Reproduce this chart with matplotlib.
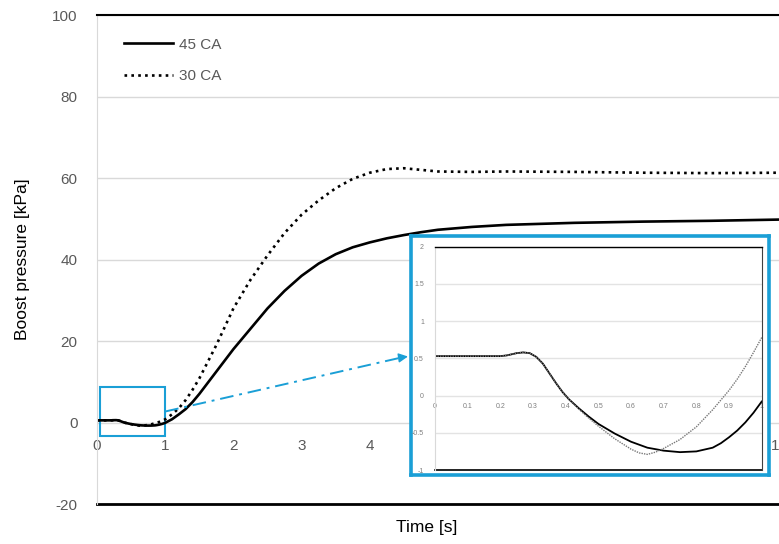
import matplotlib.pyplot as plt
from matplotlib.patches import Rectangle
import numpy as np

plt.rcParams['font.family'] = ['Liberation Sans', 'DejaVu Sans']
plt.rcParams['axes.unicode_minus'] = False

# first second of the run (shown in the inset and the main chart)
t_early = [0, 0.1, 0.2, 0.22, 0.25, 0.27, 0.29, 0.31, 0.33, 0.35, 0.37, 0.39, 0.41, 0.44,
           0.47, 0.5, 0.55, 0.6, 0.625, 0.65, 0.675, 0.7, 0.75, 0.8, 0.85, 0.875, 0.9, 0.925,
           0.95, 0.975, 1.0]
p45_early = [0.53, 0.53, 0.53, 0.54, 0.57, 0.58, 0.57, 0.52, 0.43, 0.30, 0.17, 0.05, -0.05, -0.17,
             -0.28, -0.38, -0.51, -0.62, -0.66, -0.70, -0.72, -0.74, -0.76, -0.75, -0.70, -0.64,
             -0.56, -0.47, -0.36, -0.23, -0.08]
p30_early = [0.53, 0.53, 0.53, 0.54, 0.57, 0.58, 0.57, 0.52, 0.43, 0.30, 0.17, 0.05, -0.05, -0.18,
             -0.30, -0.41, -0.58, -0.72, -0.77, -0.79, -0.76, -0.71, -0.59, -0.42, -0.19, -0.06,
             0.07, 0.22, 0.39, 0.58, 0.78]

# rest of the run
t_late = [1.1, 1.2, 1.3, 1.4, 1.5, 1.75, 2.0, 2.25, 2.5, 2.75, 3.0, 3.25, 3.5,
          3.75, 4.0, 4.25, 4.5, 4.75, 5.0, 5.5, 6, 7, 8, 9, 10]
p45_late = [0.8, 2.0, 3.3, 5.0, 7.0, 12.5, 18.0, 23.0, 28.0, 32.3, 36.0, 39.0, 41.3,
            43.0, 44.2, 45.2, 46.0, 46.7, 47.3, 48.0, 48.5, 49.0, 49.3, 49.5, 49.8]
p30_late = [2.0, 3.5, 5.5, 8.0, 10.8, 19.0, 28.0, 35.0, 41.0, 46.5, 51.0, 54.5, 57.5,
            59.8, 61.3, 62.2, 62.4, 62.0, 61.6, 61.5, 61.6, 61.5, 61.3, 61.2, 61.3]

t_all = t_early + t_late
p45_all = p45_early + p45_late
p30_all = p30_early + p30_late

cyan = '#1a9fd6'
grey = '#595959'
grid = '#d9d9d9'

fig = plt.figure(figsize=(7.79, 5.44), dpi=100)
ax = fig.add_axes([0.1245, 0.0735, 0.8755, 0.8989])

ax.plot(t_all, p45_all, color='black', lw=1.9, label='45 CA')
ax.plot(t_all, p30_all, color='black', lw=1.9, ls=(0, (1, 1.6)), label='30 CA')

ax.set_xlim(0, 10)
ax.set_ylim(-20, 100)
ax.set_xticks(range(0, 11))
ax.set_yticks(range(-20, 101, 20))
ax.yaxis.grid(True, color=grid, lw=1)
ax.set_axisbelow(True)
ax.tick_params(length=0, labelsize=11, colors=grey)
ax.tick_params(axis='y', pad=14)
ax.tick_params(axis='x', pad=12)

ax.spines['bottom'].set_position(('data', 0))
ax.spines['bottom'].set_visible(False)
ax.spines['right'].set_visible(False)
ax.spines['left'].set_color(grid)
ax.spines['top'].set_color('black')
ax.spines['top'].set_linewidth(1.5)
ax.axhline(-20, color='black', lw=2, clip_on=False)

ax.set_ylabel('Boost pressure [kPa]', fontsize=12.5, labelpad=16)
fig.text(0.548, 0.031, 'Time [s]', fontsize=12.5, ha='center', va='center')

ax.legend(loc='upper left', bbox_to_anchor=(0.02, 0.982), frameon=False,
          handlelength=3.2, labelspacing=1.15, fontsize=11, labelcolor=grey,
          handletextpad=0.4)

# zoom box and pointer
ax.add_patch(Rectangle((0.04, -3.2), 0.96, 11.8, fill=False, ec=cyan, lw=1.5))
ax.plot([1.0, 4.45], [2.7, 15.9], color=cyan, lw=1.4, ls=(0, (7, 3, 1.5, 3)))
ax.annotate('', xy=(4.6, 16.3), xytext=(4.4, 15.8),
            arrowprops=dict(arrowstyle='-|>', color=cyan, lw=1, mutation_scale=14))

# inset frame
frame = fig.add_axes([0.5276, 0.1268, 0.4596, 0.4394])
frame.set_xticks([])
frame.set_yticks([])
frame.set_facecolor('white')
for s in frame.spines.values():
    s.set_color(cyan)
    s.set_linewidth(2.6)

ins = fig.add_axes([0.5584, 0.136, 0.4194, 0.4105])
ins.plot(t_early, p45_early, color='black', lw=1.3)
ins.plot(t_early, p30_early, color='#777777', lw=1.0, ls=(0, (1, 0.8)))
ins.set_xlim(0, 1)
ins.set_ylim(-1, 2)
ins.set_xticks(np.arange(0, 1.01, 0.1))
ins.set_xticklabels(['0', '0.1', '0.2', '0.3', '0.4', '0.5', '0.6', '0.7', '0.8', '0.9', '1'])
ins.set_yticks([-1, -0.5, 0, 0.5, 1, 1.5, 2])
ins.set_yticklabels(['-1', '-0.5', '0', '0.5', '1', '1.5', '2'])
ins.yaxis.grid(True, color='#e3e3e3', lw=1)
ins.set_axisbelow(True)
ins.tick_params(length=0, labelsize=5, colors='#7f7f7f')
ins.tick_params(axis='x', pad=5)
ins.tick_params(axis='y', pad=8)
ins.spines['bottom'].set_position(('data', 0))
ins.spines['bottom'].set_visible(False)
ins.axhline(-1, color='black', lw=1.2, clip_on=False)
ins.spines['top'].set_color('black')
ins.spines['top'].set_linewidth(1.0)
ins.spines['right'].set_color('#404040')
ins.spines['right'].set_linewidth(0.8)
ins.spines['left'].set_color('#d9d9d9')

fig.savefig('out.png', dpi=100)
